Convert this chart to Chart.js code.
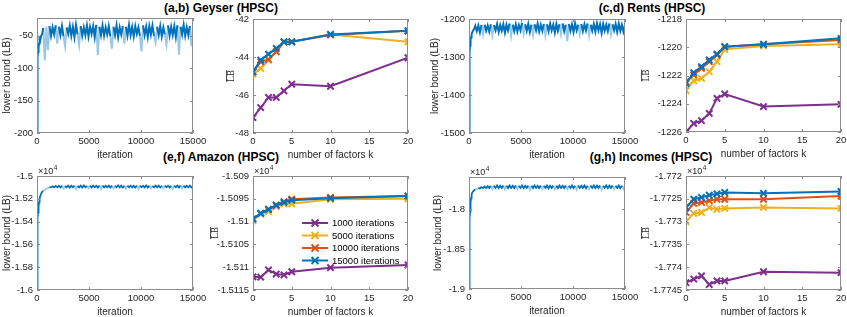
<!DOCTYPE html>
<html>
<head>
<meta charset="utf-8">
<script src="https://cdn.jsdelivr.net/npm/chart.js@4.4.0/dist/chart.umd.min.js"></script>
<style>
html, body { margin: 0; padding: 0; background: #fff; overflow: hidden; width: 847px; height: 317px; position: relative; font-family: "Liberation Sans", Arial, sans-serif; }
canvas { position: absolute; }
.ttl { position: absolute; font-weight: bold; font-size: 12px; transform: translate(-50%, -50%); white-space: nowrap; color: #000; }
</style>
</head>
<body>
<div class="ttl" style="left:221px; top:8px">(a,b) Geyser (HPSC)</div>
<div class="ttl" style="left:652px; top:8px">(c,d) Rents (HPSC)</div>
<div class="ttl" style="left:221px; top:157px">(e,f) Amazon (HPSC)</div>
<div class="ttl" style="left:651px; top:157px">(g,h) Incomes (HPSC)</div>
<canvas id="c1"></canvas>
<canvas id="c2"></canvas>
<canvas id="c3"></canvas>
<canvas id="c4"></canvas>
<canvas id="c5"></canvas>
<canvas id="c6"></canvas>
<canvas id="c7"></canvas>
<canvas id="c8"></canvas>
<script>
// iterations at which the lower bound trace is sampled
var traceIter = [0, 20, 40, 60, 80, 100, 150, 200, 250, 300, 400, 500,
    600, 750, 900, 1050, 1200, 1350, 1500, 1650, 1800, 1950,
    2100, 2250, 2400, 2550, 2700, 2850, 3000, 3150, 3300, 3450,
    3600, 3750, 3900, 4050, 4200, 4350, 4500, 4650, 4800, 4950,
    5100, 5250, 5400, 5550, 5700, 5850, 6000, 6150, 6300, 6450,
    6600, 6750, 6900, 7050, 7200, 7350, 7500, 7650, 7800, 7950,
    8100, 8250, 8400, 8550, 8700, 8850, 9000, 9150, 9300, 9450,
    9600, 9750, 9900, 10050, 10200, 10350, 10500, 10650, 10800, 10950,
    11100, 11250, 11400, 11550, 11700, 11850, 12000, 12150, 12300, 12450,
    12600, 12750, 12900, 13050, 13200, 13350, 13500, 13650, 13800, 13950,
    14100, 14250, 14400, 14550, 14700, 14850, 15000];

var geyserLB = [-200, -165, -120, -95, -82, -75, -68, -62, -56, -58, -50, -47,
    -38, -88, -36, -72, -35, -50, -37, -48, -34, -62,
    -36, -49, -35, -51, -66, -37, -47, -34, -50, -36,
    -52, -33, -48, -64, -35, -50, -37, -49, -34, -51,
    -36, -47, -35, -52, -33, -80, -36, -49, -34, -50,
    -37, -48, -35, -51, -70, -36, -49, -34, -52, -37,
    -48, -35, -62, -36, -50, -33, -49, -36, -51, -35,
    -47, -37, -50, -74, -34, -49, -36, -52, -35, -48,
    -34, -50, -60, -36, -49, -35, -51, -37, -48, -63,
    -34, -50, -36, -49, -35, -52, -34, -79, -36, -48,
    -33, -50, -37, -49, -35, -66, -38];

var rentsLB = [-1500, -1440, -1380, -1330, -1290, -1270, -1255, -1248, -1240, -1236, -1230, -1226,
    -1218, -1232, -1217, -1235, -1216, -1240, -1215, -1231, -1217, -1233,
    -1214, -1242, -1216, -1230, -1213, -1234, -1216, -1231, -1214, -1236,
    -1215, -1230, -1212, -1244, -1215, -1232, -1214, -1233, -1216, -1230,
    -1210, -1238, -1214, -1231, -1213, -1234, -1215, -1241, -1214, -1230,
    -1212, -1233, -1215, -1231, -1213, -1243, -1214, -1232, -1212, -1230,
    -1215, -1236, -1213, -1231, -1214, -1240, -1212, -1232, -1215, -1258,
    -1213, -1231, -1214, -1234, -1211, -1230, -1215, -1239, -1213, -1232,
    -1214, -1230, -1212, -1242, -1215, -1231, -1213, -1233, -1211, -1230,
    -1214, -1237, -1213, -1231, -1215, -1232, -1212, -1240, -1214, -1230,
    -1213, -1234, -1212, -1231, -1215, -1233, -1216];

// values in units of 1e4
var amazonLB = [-1.600, -1.575, -1.555, -1.545, -1.537, -1.532, -1.527, -1.523, -1.520, -1.518, -1.5155, -1.5138,
    -1.5130, -1.5122, -1.5112, -1.5106, -1.5100, -1.5098, -1.5090, -1.5100, -1.5087, -1.5099,
    -1.5086, -1.5100, -1.5085, -1.5110, -1.5087, -1.5099, -1.5084, -1.5101, -1.5086, -1.5098,
    -1.5084, -1.5112, -1.5086, -1.5100, -1.5085, -1.5101, -1.5083, -1.5099, -1.5086, -1.5108,
    -1.5085, -1.5100, -1.5084, -1.5099, -1.5086, -1.5101, -1.5083, -1.5114, -1.5085, -1.5100,
    -1.5086, -1.5099, -1.5084, -1.5101, -1.5085, -1.5109, -1.5086, -1.5099, -1.5083, -1.5100,
    -1.5085, -1.5101, -1.5086, -1.5111, -1.5084, -1.5099, -1.5085, -1.5100, -1.5086, -1.5101,
    -1.5084, -1.5113, -1.5085, -1.5099, -1.5086, -1.5100, -1.5083, -1.5101, -1.5085, -1.5108,
    -1.5086, -1.5099, -1.5084, -1.5100, -1.5085, -1.5101, -1.5086, -1.5107, -1.5084, -1.5099,
    -1.5085, -1.5100, -1.5086, -1.5112, -1.5084, -1.5099, -1.5085, -1.5101, -1.5083, -1.5109,
    -1.5085, -1.5100, -1.5086, -1.5099, -1.5084, -1.5101, -1.5087];

var incomesLB = [-1.900, -1.870, -1.845, -1.825, -1.812, -1.803, -1.792, -1.786, -1.782, -1.7795, -1.7775, -1.7762,
    -1.7752, -1.7745, -1.7736, -1.7740, -1.7722, -1.7736, -1.7715, -1.7735, -1.7710, -1.7734,
    -1.7706, -1.7748, -1.7705, -1.7733, -1.7703, -1.7735, -1.7706, -1.7732, -1.7704, -1.7752,
    -1.7705, -1.7734, -1.7702, -1.7733, -1.7706, -1.7735, -1.7703, -1.7746, -1.7705, -1.7733,
    -1.7702, -1.7735, -1.7706, -1.7732, -1.7703, -1.7756, -1.7705, -1.7734, -1.7701, -1.7733,
    -1.7706, -1.7735, -1.7703, -1.7749, -1.7705, -1.7733, -1.7702, -1.7736, -1.7706, -1.7732,
    -1.7704, -1.7750, -1.7705, -1.7734, -1.7702, -1.7733, -1.7706, -1.7735, -1.7703, -1.7747,
    -1.7705, -1.7733, -1.7701, -1.7734, -1.7706, -1.7755, -1.7703, -1.7733, -1.7705, -1.7732,
    -1.7702, -1.7736, -1.7706, -1.7748, -1.7704, -1.7733, -1.7702, -1.7734, -1.7705, -1.7732,
    -1.7703, -1.7758, -1.7706, -1.7733, -1.7702, -1.7735, -1.7705, -1.7732, -1.7703, -1.7749,
    -1.7706, -1.7733, -1.7702, -1.7734, -1.7705, -1.7746, -1.7707];

// mean lower bound vs number of factors
var factorsK = [0, 1, 2, 3, 4, 5, 10, 20];
var seriesNames = ['1000 iterations', '5000 iterations', '10000 iterations', '15000 iterations'];

var geyser1000 = [-47.19, -46.66, -46.13, -46.13, -45.78, -45.43, -45.54, -44.04];
var geyser5000 = [-44.90, -44.60, -44.16, -43.72, -43.20, -43.20, -42.81, -43.20];
var geyser10000 = [-44.78, -44.25, -44.13, -43.72, -43.20, -43.20, -42.84, -42.62];
var geyser15000 = [-44.78, -44.16, -43.85, -43.55, -43.20, -43.20, -42.81, -42.62];

var rents1000 = [-1226.0, -1225.39, -1225.2, -1224.68, -1223.62, -1223.31, -1224.2, -1224.04];
var rents5000 = [-1223.07, -1222.37, -1222.2, -1221.73, -1221.02, -1220.15, -1219.91, -1219.79];
var rents10000 = [-1222.44, -1221.96, -1221.49, -1221.02, -1220.55, -1219.96, -1219.79, -1219.49];
var rents15000 = [-1222.55, -1221.8, -1221.37, -1220.9, -1220.48, -1219.96, -1219.79, -1219.37];

var amazon1000 = [-1.51121, -1.51122, -1.51106, -1.51115, -1.51117, -1.5111, -1.51101, -1.51095];
var amazon5000 = [-1.50998, -1.50983, -1.50978, -1.50967, -1.50961, -1.50961, -1.50951, -1.5095];
var amazon10000 = [-1.50995, -1.50982, -1.50973, -1.50964, -1.50956, -1.50951, -1.50947, -1.50944];
var amazon15000 = [-1.50994, -1.50982, -1.50973, -1.50964, -1.50958, -1.50953, -1.50949, -1.50944];

var incomes1000 = [-1.77434, -1.77426, -1.77419, -1.77438, -1.7743, -1.7743, -1.7741, -1.77412];
var incomes5000 = [-1.773, -1.77282, -1.7728, -1.77269, -1.77273, -1.77271, -1.77269, -1.77271];
var incomes10000 = [-1.7728, -1.7726, -1.77258, -1.77254, -1.77251, -1.77251, -1.77251, -1.77244];
var incomes15000 = [-1.77269, -1.77251, -1.77247, -1.77242, -1.77239, -1.77236, -1.77238, -1.77234];

var iterTicks = [0, 5000, 10000, 15000];
var kTicks = [0, 5, 10, 15, 20];

var colors = ['#7E2F8E', '#EDB120', '#D95319', '#0072BD'];
var FONT = '"Liberation Sans", Arial, sans-serif';
var TXT = '#262626';
var TICK = 9.5;

// box, inward ticks, x10^4 note, LB-bar label and the legend, matlab style
var matlabBox = {
    id: 'matlabBox',
    afterDraw: function(chart, args, o) {
        var ctx = chart.ctx, a = chart.chartArea;
        var sx = chart.scales.x, sy = chart.scales.y;
        ctx.save();
        ctx.strokeStyle = '#8c8c8c';
        ctx.lineWidth = 1;
        ctx.strokeRect(a.left + 0.5, a.top + 0.5, a.right - a.left - 1, a.bottom - a.top - 1);
        ctx.beginPath();
        sx.ticks.forEach(function(t) {
            var px = Math.round(sx.getPixelForValue(t.value)) + 0.5;
            ctx.moveTo(px, a.bottom); ctx.lineTo(px, a.bottom - 3);
            ctx.moveTo(px, a.top); ctx.lineTo(px, a.top + 3);
        });
        sy.ticks.forEach(function(t) {
            var py = Math.round(sy.getPixelForValue(t.value)) + 0.5;
            ctx.moveTo(a.left, py); ctx.lineTo(a.left + 3, py);
            ctx.moveTo(a.right, py); ctx.lineTo(a.right - 3, py);
        });
        ctx.stroke();

        if (o.exp) {
            ctx.fillStyle = TXT;
            ctx.textBaseline = 'alphabetic';
            ctx.textAlign = 'left';
            ctx.font = '9px ' + FONT;
            ctx.fillText('\u00d710', a.left + 1, a.top - 2);
            var w = ctx.measureText('\u00d710').width;
            ctx.font = '6.5px ' + FONT;
            ctx.fillText('4', a.left + 1 + w + 0.5, a.top - 6);
        }

        if (o.lbDx) {
            ctx.save();
            ctx.translate(a.left - o.lbDx, (a.top + a.bottom) / 2);
            ctx.rotate(-Math.PI / 2);
            ctx.font = '8.5px "DejaVu Serif", "Liberation Serif", serif';
            ctx.fillStyle = TXT;
            ctx.textAlign = 'center';
            ctx.textBaseline = 'middle';
            ctx.fillText('LB', 0, 0.5);
            var lw = ctx.measureText('LB').width;
            ctx.strokeStyle = TXT;
            ctx.lineWidth = 0.8;
            ctx.beginPath();
            ctx.moveTo(-lw / 2, -4.5); ctx.lineTo(lw / 2, -4.5);
            ctx.stroke();
            ctx.restore();
        }

        if (o.legend) {
            ctx.font = '9.5px ' + FONT;
            ctx.textBaseline = 'middle';
            ctx.textAlign = 'left';
            for (var i = 0; i < seriesNames.length; i++) {
                var y = a.top + 47 + i * 12.5;
                var x0 = a.left + 49, x1 = a.left + 75, xm = (x0 + x1) / 2;
                ctx.strokeStyle = colors[i];
                ctx.lineWidth = 2;
                ctx.beginPath();
                ctx.moveTo(x0, y); ctx.lineTo(x1, y);
                ctx.moveTo(xm - 3.5, y - 3.5); ctx.lineTo(xm + 3.5, y + 3.5);
                ctx.moveTo(xm - 3.5, y + 3.5); ctx.lineTo(xm + 3.5, y - 3.5);
                ctx.stroke();
                ctx.fillStyle = '#000';
                ctx.fillText(seriesNames[i], a.left + 79, y + 0.5);
            }
        }
        ctx.restore();
    }
};

function fmt(v) {
    return String(Number(v.toFixed(5)));
}

// dips below the band are drawn lighter, like the thin spikes of the original
function traceSet(vals, floor, lw) {
    return [{
        data: traceIter.map(function(it, i) { return { x: it, y: vals[i] }; }),
        borderColor: '#0072BD',
        borderWidth: lw,
        pointRadius: 0,
        tension: 0,
        segment: {
            borderColor: function(c) {
                if (c.p0.parsed.x < 550) return '#0072BD';
                return (c.p0.parsed.y < floor || c.p1.parsed.y < floor) ? 'rgba(0,114,189,0.4)' : '#0072BD';
            }
        }
    }];
}

function kSets(series) {
    // blue last in the list of series, drawn on top
    var out = [];
    for (var i = series.length - 1; i >= 0; i--) {
        out.push({
            data: factorsK.map(function(k, j) { return { x: k, y: series[i][j] }; }),
            borderColor: colors[i],
            backgroundColor: colors[i],
            pointBorderColor: colors[i],
            borderWidth: 2,
            pointStyle: 'crossRot',
            pointRadius: 4.5,
            pointBorderWidth: 2,
            tension: 0
        });
    }
    return out;
}

function panel(p) {
    var padTop = 16, padRight = 18, xh = 28;
    var cv = document.getElementById(p.id);
    var w = p.r - p.l + p.yw + padRight;
    var h = p.b - p.t + padTop + xh;
    cv.width = w; cv.height = h;
    cv.style.width = w + 'px'; cv.style.height = h + 'px';
    cv.style.left = (p.l - p.yw) + 'px';
    cv.style.top = (p.t - padTop) + 'px';
    return new Chart(cv, {
        type: 'line',
        data: { datasets: p.datasets },
        options: {
            responsive: false,
            animation: false,
            devicePixelRatio: 1,
            layout: { padding: { top: padTop, right: padRight, left: 0, bottom: 0 } },
            plugins: {
                legend: { display: false },
                tooltip: { enabled: false },
                matlabBox: { exp: !!p.exp, legend: !!p.legend, lbDx: p.lbDx || 0 }
            },
            scales: {
                x: {
                    type: 'linear',
                    min: p.xMin, max: p.xMax,
                    afterFit: function(s) { s.height = xh; },
                    afterBuildTicks: function(s) { s.ticks = p.xTicks.map(function(v) { return { value: v }; }); },
                    grid: { display: false, drawTicks: false },
                    border: { display: false },
                    ticks: { padding: 3, color: TXT, autoSkip: false, maxRotation: 0, font: { family: FONT, size: TICK }, callback: fmt },
                    title: { display: true, text: p.xTitle, color: TXT, font: { family: FONT, size: 10, lineHeight: 1.2 }, padding: { top: 0, bottom: 0 } }
                },
                y: {
                    type: 'linear',
                    min: p.yMin, max: p.yMax,
                    afterFit: function(s) { s.width = p.yw; },
                    afterBuildTicks: function(s) { s.ticks = p.yTicks.map(function(v) { return { value: v }; }); },
                    grid: { display: false, drawTicks: false },
                    border: { display: false },
                    ticks: { padding: 4, color: TXT, autoSkip: false, font: { family: FONT, size: TICK }, callback: fmt },
                    title: {
                        display: !!p.yTitle, text: p.yTitle || '', color: TXT,
                        font: { family: FONT, size: 10, lineHeight: 1.2 },
                        padding: { top: p.yPad || 0, bottom: 0 }
                    }
                }
            }
        },
        plugins: [matlabBox]
    });
}

panel({ id: 'c1', l: 37, t: 18, r: 193, b: 133, yw: 37, yPad: 1.5,
    xMin: 0, xMax: 15000, xTicks: iterTicks, yMin: -200, yMax: -22.5, yTicks: [-200, -150, -100, -50],
    xTitle: 'iteration', yTitle: 'lower bound (LB)', datasets: traceSet(geyserLB, -55, 2) });

panel({ id: 'c2', l: 253, t: 19, r: 408, b: 133, yw: 37, lbDx: 22,
    xMin: 0, xMax: 20, xTicks: kTicks, yMin: -48, yMax: -42, yTicks: [-48, -46, -44, -42],
    xTitle: 'number of factors k',
    datasets: kSets([geyser1000, geyser5000, geyser10000, geyser15000]) });

panel({ id: 'c3', l: 469, t: 19, r: 625, b: 133, yw: 40, yPad: 0,
    xMin: 0, xMax: 15000, xTicks: iterTicks, yMin: -1500, yMax: -1200, yTicks: [-1500, -1400, -1300, -1200],
    xTitle: 'iteration', yTitle: 'lower bound (LB)', datasets: traceSet(rentsLB, -1237, 2) });

panel({ id: 'c4', l: 686, t: 19, r: 841, b: 132, yw: 48, lbDx: 40,
    xMin: 0, xMax: 20, xTicks: kTicks, yMin: -1226, yMax: -1218, yTicks: [-1226, -1224, -1222, -1220, -1218],
    xTitle: 'number of factors k',
    datasets: kSets([rents1000, rents5000, rents10000, rents15000]) });

panel({ id: 'c5', l: 37, t: 176, r: 193, b: 290, yw: 37, yPad: 1,
    xMin: 0, xMax: 15000, xTicks: iterTicks, yMin: -1.6, yMax: -1.5, yTicks: [-1.6, -1.58, -1.56, -1.54, -1.52, -1.5],
    xTitle: 'iteration', yTitle: 'lower bound (LB)', exp: true, datasets: traceSet(amazonLB, -1.5104, 1.8) });

panel({ id: 'c6', l: 253, t: 176, r: 408, b: 290, yw: 45, lbDx: 38,
    xMin: 0, xMax: 20, xTicks: kTicks, yMin: -1.5115, yMax: -1.509, yTicks: [-1.5115, -1.511, -1.5105, -1.51, -1.5095, -1.509],
    xTitle: 'number of factors k', exp: true, legend: true,
    datasets: kSets([amazon1000, amazon5000, amazon10000, amazon15000]) });

panel({ id: 'c7', l: 469, t: 177, r: 625, b: 289, yw: 40, yPad: 3,
    xMin: 0, xMax: 15000, xTicks: iterTicks, yMin: -1.9, yMax: -1.7596, yTicks: [-1.9, -1.85, -1.8],
    xTitle: 'iteration', yTitle: 'lower bound (LB)', exp: true, datasets: traceSet(incomesLB, -1.7742, 1.8) });

panel({ id: 'c8', l: 686, t: 176, r: 841, b: 290, yw: 48, lbDx: 40,
    xMin: 0, xMax: 20, xTicks: kTicks, yMin: -1.7745, yMax: -1.772, yTicks: [-1.7745, -1.774, -1.7735, -1.773, -1.7725, -1.772],
    xTitle: 'number of factors k', exp: true,
    datasets: kSets([incomes1000, incomes5000, incomes10000, incomes15000]) });
</script>
</body>
</html>
